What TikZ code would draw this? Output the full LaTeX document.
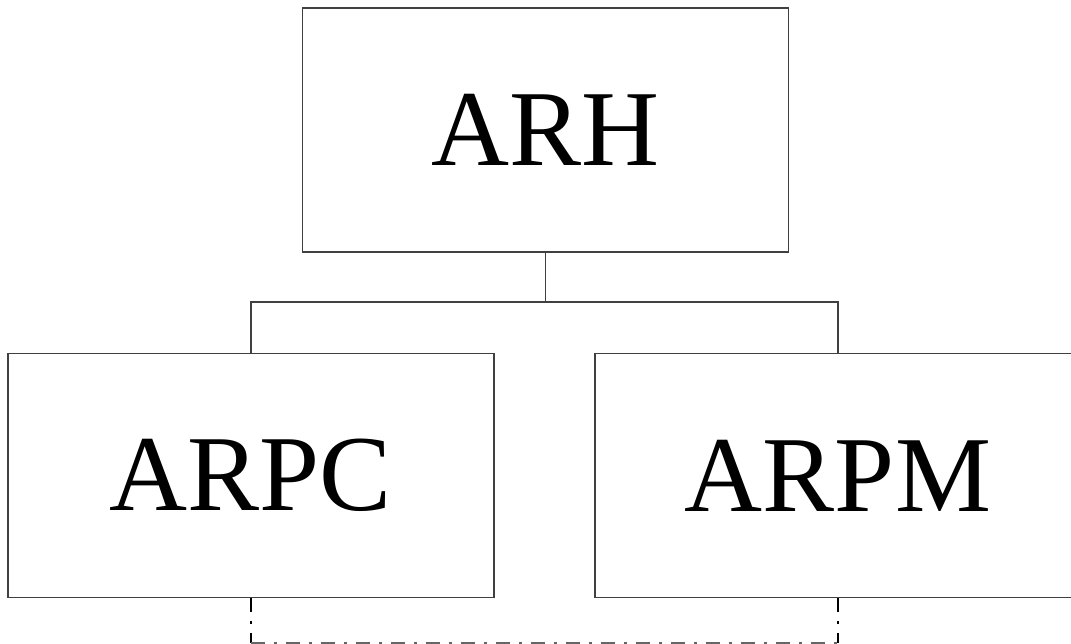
\documentclass[tikz,border=0pt]{standalone}
\usepackage{fontspec}
\setmainfont{Liberation Serif}
\begin{document}
\begin{tikzpicture}[x=1pt,y=-1pt,
  unitbox/.style={draw=black!75,line width=1.3pt,rectangle,inner sep=0pt,
    minimum width=486pt,minimum height=244pt,
    font=\fontsize{108}{120}\selectfont},
  link/.style={draw=black!75,line width=1.2pt},
  dashlink/.style={draw=black,line width=1.6pt,dash pattern=on 14pt off 9pt on 3pt off 9pt}]
\useasboundingbox (0,0) rectangle (1071,643);
\begin{scope}
\clip (0,0) rectangle (1071,643);
\node[unitbox] (arh) at (545.5,130) {ARH};
\node[unitbox] (arpc) at (251,475.5) {ARPC};
\node[unitbox] (arpm) at (838,475.5) {ARPM};
\coordinate (bus) at (545.5,302);
\draw[link] (arh.south) -- (bus);
\draw[link] (arpc.north) |- (bus) -| (arpm.north);
\coordinate (lowl) at (arpc.south |- 0,643);
\coordinate (lowr) at (arpm.south |- 0,643);
\draw[dashlink] (arpc.south) -- (lowl);
\draw[dashlink] (arpm.south) -- (lowr);
\draw[dashlink,draw=black!60] (lowl) -- (lowr);
\end{scope}
\end{tikzpicture}
\end{document}
